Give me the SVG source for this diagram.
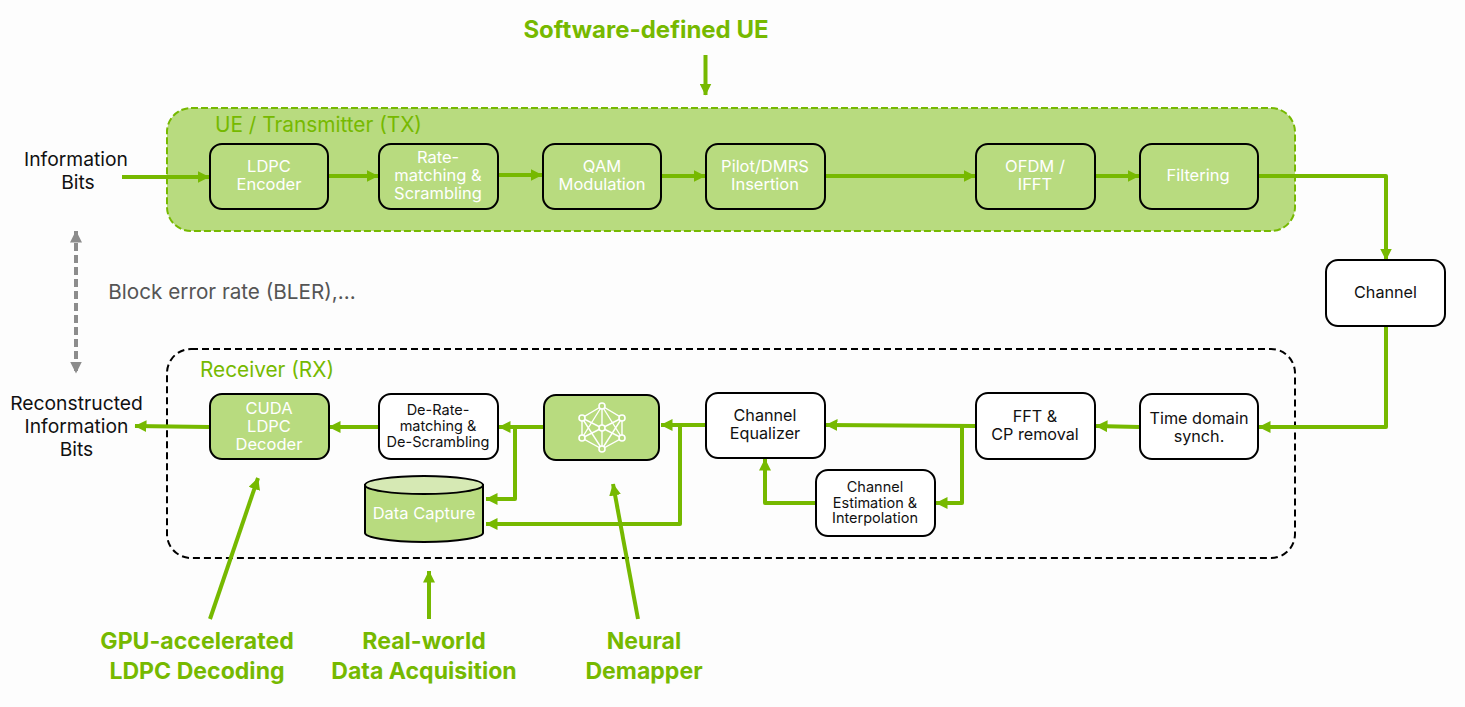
<svg xmlns="http://www.w3.org/2000/svg" width="1465" height="707" viewBox="0 0 1465 707">
<style>
text{font-family:"Inter","Noto Sans","Liberation Sans",sans-serif;text-anchor:middle}
.n{fill:#b8db7f;stroke:#000;stroke-width:2}
.w{fill:#fff;stroke:#000;stroke-width:2}
.wt{fill:#fff;font-size:16.5px}
.bt{fill:#111;font-size:16.2px}
.sm{font-size:14.5px}
.lab{fill:#111;font-size:19.3px}
.g{fill:#76b900;font-size:20.8px}
.h{fill:#76b900;font-size:23.1px;font-weight:700}
.c{fill:none;stroke:#76b900;stroke-width:4;stroke-linejoin:round}
.d{fill:none;stroke:#76b900;stroke-width:4}
.ic{fill:#b8db7f;stroke:#fff;stroke-width:1.6}
.il{fill:none;stroke:#fff;stroke-width:1.4}
</style>
<defs>
<marker id="a" viewBox="0 0 12 12" refX="11.5" refY="6" markerWidth="12" markerHeight="12" markerUnits="userSpaceOnUse" orient="auto"><path d="M0 0L12 6L0 12Z" fill="#76b900"/></marker>
<marker id="gm" viewBox="0 0 12 12" refX="11.5" refY="6" markerWidth="12" markerHeight="12" markerUnits="userSpaceOnUse" orient="auto-start-reverse"><path d="M0 0L12 6L0 12Z" fill="#8c8c8c"/></marker>
</defs>
<rect width="1465" height="707" fill="#fdfdfd"/>
<g id="tx-region">
<rect x="167" y="108" width="1128" height="123" rx="24" fill="#b8db7f" stroke="#76b900" stroke-width="2" stroke-dasharray="7 3"/>
<text x="318.500" y="132" class="g">UE / Transmitter (TX)</text>
</g>
<g id="rx-region">
<rect x="167" y="349" width="1128" height="209" rx="24" fill="none" stroke="#000" stroke-width="2" stroke-dasharray="7 4"/>
<text x="267" y="377" class="g">Receiver (RX)</text>
</g>
<g id="connectors">
<path class="c" marker-end="url(#a)" d="M122 177H209"/>
<path class="c" marker-end="url(#a)" d="M328 176H378"/>
<path class="c" marker-end="url(#a)" d="M498 175H542"/>
<path class="c" marker-end="url(#a)" d="M661 176H705"/>
<path class="c" marker-end="url(#a)" d="M825 176H975"/>
<path class="c" marker-end="url(#a)" d="M1095 176H1139"/>
<path class="c" marker-end="url(#a)" d="M1258 176H1386V260"/>
<path class="c" marker-end="url(#a)" d="M1386 326V427H1259"/>
<path class="c" marker-end="url(#a)" d="M1139 427L1096 426"/>
<path class="c" marker-end="url(#a)" d="M975 426L826 425"/>
<path class="c" marker-end="url(#a)" d="M962 426V503H936"/>
<path class="c" marker-end="url(#a)" d="M816 503H765V459"/>
<path class="c" marker-end="url(#a)" d="M705 425H661"/>
<path class="c" marker-end="url(#a)" d="M680 425V524H486"/>
<path class="c" marker-end="url(#a)" d="M543 427H499"/>
<path class="c" marker-end="url(#a)" d="M515 427V499H486"/>
<path class="c" marker-end="url(#a)" d="M378 427H329"/>
<path class="c" marker-end="url(#a)" d="M209 427L135 426"/>
<path class="d" marker-end="url(#a)" d="M705.500 55V95"/>
<path class="d" marker-end="url(#a)" d="M210 619L258 478"/>
<path class="d" marker-end="url(#a)" d="M429 619V571"/>
<path class="d" marker-end="url(#a)" d="M638 619L613 484"/>
<path d="M76 231V373" fill="none" stroke="#8c8c8c" stroke-width="4" stroke-dasharray="8 4" marker-start="url(#gm)" marker-end="url(#gm)"/>
</g>
<g id="labels">
<text x="76" y="166" class="lab">Information</text>
<text x="78" y="189" class="lab">Bits</text>
<text x="232" y="299" fill="#555" font-size="20.700">Block error rate (BLER),...</text>
<text x="76.500" y="410" class="lab">Reconstructed</text>
<text x="76.500" y="433" class="lab">Information</text>
<text x="76.500" y="456" class="lab">Bits</text>
<text x="646" y="38" class="h" style="font-size:24px">Software-defined UE</text>
<text x="197" y="649" class="h">GPU-accelerated</text>
<text x="197" y="679" class="h">LDPC Decoding</text>
<text x="424" y="649" class="h">Real-world</text>
<text x="424" y="679" class="h">Data Acquisition</text>
<text x="644" y="649" class="h">Neural</text>
<text x="644" y="679" class="h">Demapper</text>
</g>
<g id="ldpc-encoder"><rect x="210" y="144" width="118" height="65" rx="12" class="n"/><text x="269" y="172" class="wt">LDPC</text><text x="269" y="190" class="wt">Encoder</text></g>
<g id="rate-matching"><rect x="379" y="144" width="119" height="65" rx="12" class="n"/><text x="438" y="163" class="wt">Rate-</text><text x="438" y="181" class="wt">matching &amp;</text><text x="438" y="199" class="wt">Scrambling</text></g>
<g id="qam"><rect x="543" y="144" width="118" height="65" rx="12" class="n"/><text x="602" y="172" class="wt">QAM</text><text x="602" y="190" class="wt">Modulation</text></g>
<g id="pilot"><rect x="706" y="144" width="119" height="65" rx="12" class="n"/><text x="765" y="172" class="wt">Pilot/DMRS</text><text x="765" y="190" class="wt">Insertion</text></g>
<g id="ofdm"><rect x="976" y="144" width="119" height="65" rx="12" class="n"/><text x="1035" y="172" class="wt">OFDM /</text><text x="1035" y="190" class="wt">IFFT</text></g>
<g id="filtering"><rect x="1140" y="144" width="118" height="65" rx="12" class="n"/><text x="1198" y="181" class="wt">Filtering</text></g>
<g id="channel"><rect x="1326" y="260" width="119" height="66" rx="12" class="w"/><text x="1385.500" y="298" class="bt">Channel</text></g>
<g id="time-sync"><rect x="1140" y="394" width="118" height="65" rx="12" class="w"/><text x="1199" y="424" class="bt">Time domain</text><text x="1199" y="442" class="bt">synch.</text></g>
<g id="fft"><rect x="976" y="393" width="119" height="66" rx="12" class="w"/><text x="1035" y="422" class="bt">FFT &amp;</text><text x="1035" y="440" class="bt">CP removal</text></g>
<g id="equalizer"><rect x="706" y="393" width="119" height="65" rx="12" class="w"/><text x="765" y="421" class="bt">Channel</text><text x="765" y="439" class="bt">Equalizer</text></g>
<g id="estimation"><rect x="816" y="470" width="119" height="66" rx="12" class="w"/><text x="875" y="492" class="bt sm">Channel</text><text x="875" y="508" class="bt sm">Estimation &amp;</text><text x="875" y="523" class="bt sm">Interpolation</text></g>
<g id="demapper"><rect x="544" y="395" width="115" height="65" rx="12" class="n"/>
<path class="il" d="M602 406L582 418L582 438L602 449L622 438L622 418ZM602 406V449M582 418L602 428L622 418M582 438L602 428L622 438M582 418L622 438M622 418L582 438M602 406L582 438M602 406L622 438M602 449L582 418M602 449L622 418"/>
<circle cx="602" cy="406" r="3" class="ic"/><circle cx="582" cy="418" r="3" class="ic"/><circle cx="622" cy="418" r="3" class="ic"/><circle cx="602" cy="428" r="3" class="ic"/><circle cx="582" cy="438" r="3" class="ic"/><circle cx="622" cy="438" r="3" class="ic"/><circle cx="602" cy="449" r="3" class="ic"/></g>
<g id="de-rate"><rect x="379" y="394" width="119" height="65" rx="12" class="w"/><text x="438" y="415" class="bt sm">De-Rate-</text><text x="438" y="431" class="bt sm">matching &amp;</text><text x="438" y="447" class="bt sm">De-Scrambling</text></g>
<g id="cuda"><rect x="210" y="394" width="119" height="65" rx="12" class="n"/><text x="269" y="414" class="wt">CUDA</text><text x="269" y="432" class="wt">LDPC</text><text x="269" y="450" class="wt">Decoder</text></g>
<g id="data-capture"><path d="M365 485V533C365 537 388 542 424 542S483 537 483 533V485Z" class="n"/><ellipse cx="424" cy="485" rx="59" ry="9" fill="#d6e9b4" stroke="#000" stroke-width="2"/><text x="424" y="519" class="wt">Data Capture</text></g>
</svg>
